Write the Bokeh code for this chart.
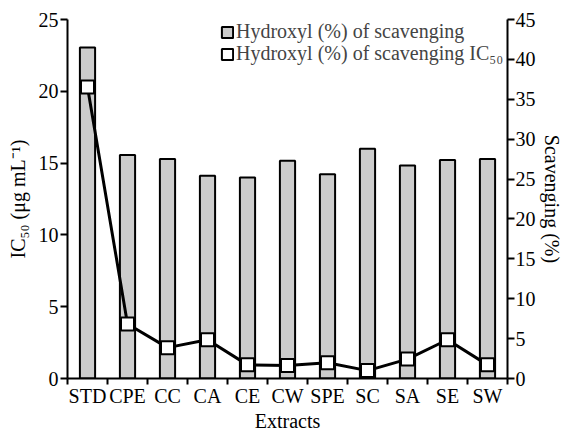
from bokeh.plotting import figure
from bokeh.models import (Range1d, LinearAxis, FixedTicker, Legend, LegendItem)
from bokeh.embed import file_html
from bokeh.resources import INLINE

categories = ["STD", "CPE", "CC", "CA", "CE", "CW", "SPE", "SC", "SA", "SE", "SW"]
scavenging = [41.5, 28.0, 27.5, 25.4, 25.2, 27.3, 25.6, 28.8, 26.7, 27.4, 27.5]
ic50 = [20.3, 3.8, 2.15, 2.7, 0.95, 0.9, 1.1, 0.55, 1.35, 2.7, 0.95]
left_ticks = [0, 5, 10, 15, 20, 25]
right_ticks = [0, 5, 10, 15, 20, 25, 30, 35, 40, 45]

FONT = "Liberation Serif"
FS = "20px"

xs = list(range(len(categories)))

p = figure(width=568, height=434, output_backend="svg", toolbar_location=None,
           x_range=Range1d(-0.5, len(categories) - 0.5), y_range=Range1d(0, 25),
           min_border_left=67, min_border_right=61, min_border_top=19, min_border_bottom=55,
           x_axis_location=None, y_axis_location=None)
p.outline_line_color = None
p.xgrid.visible = False
p.ygrid.visible = False
p.background_fill_color = "white"
p.border_fill_color = "white"
p.extra_y_ranges = {"right": Range1d(0, 45)}

def style_axis(ax):
    ax.axis_line_width = 2
    ax.axis_line_color = "black"
    ax.major_tick_line_width = 2
    ax.major_tick_line_color = "black"
    ax.major_tick_in = 0
    ax.major_tick_out = 7
    ax.minor_tick_line_color = None
    ax.major_label_text_font = FONT
    ax.major_label_text_font_size = FS
    ax.major_label_text_color = "black"
    ax.axis_label_text_font = FONT
    ax.axis_label_text_font_size = FS
    ax.axis_label_text_font_style = "normal"
    ax.axis_label_text_color = "black"

# bottom axis: labels at category centres, ticks between categories
xaxis = LinearAxis(ticker=FixedTicker(ticks=xs, minor_ticks=[i - 0.5 for i in range(len(categories) + 1)]),
                   axis_label="Extracts")
style_axis(xaxis)
xaxis.major_tick_line_color = None
xaxis.major_tick_out = 0
xaxis.minor_tick_line_color = "black"
xaxis.minor_tick_line_width = 2
xaxis.minor_tick_in = 0
xaxis.minor_tick_out = 6
xaxis.major_label_standoff = 0
xaxis.axis_label_standoff = 0
xaxis.major_label_overrides = {i: c for i, c in enumerate(categories)}
p.add_layout(xaxis, "below")

# left axis
yaxis = LinearAxis(ticker=FixedTicker(ticks=left_ticks, minor_ticks=[]),
                   axis_label="IC\u2085\u2080 (\u03bcg mL\u207b\u00b9)")
style_axis(yaxis)
yaxis.major_label_standoff = 2
yaxis.axis_label_standoff = 7
p.add_layout(yaxis, "left")

# right axis
raxis = LinearAxis(y_range_name="right", ticker=FixedTicker(ticks=right_ticks, minor_ticks=[]),
                   axis_label="Scavenging (%)")
style_axis(raxis)
raxis.major_label_standoff = 1
raxis.axis_label_standoff = 2
p.add_layout(raxis, "right")

bars = p.vbar(x=xs, top=scavenging, bottom=0, width=0.38, y_range_name="right",
              fill_color="#cccccc", line_color="black", line_width=2)

p.line(x=xs, y=ic50, line_color="black", line_width=3)
marks = p.rect(x=xs, y=ic50, width=13, height=13, width_units="screen", height_units="screen",
               fill_color="white", line_color="black", line_width=2)

def make_legend(label, renderer, loc):
    lg = Legend(items=[LegendItem(label=label, renderers=[renderer])], location=loc)
    lg.padding = 0
    lg.margin = 0
    lg.spacing = 0
    lg.glyph_width = 14
    lg.glyph_height = 14
    lg.label_height = 20
    lg.label_standoff = 2
    lg.label_text_font = FONT
    lg.label_text_font_size = FS
    lg.background_fill_alpha = 0
    lg.border_line_color = None
    return lg

p.add_layout(make_legend("Hydroxyl (%) of scavenging", bars, (153, 335)))
p.add_layout(make_legend("Hydroxyl (%) of scavenging IC\u2085\u2080", marks, (153, 313)))

open("out.html", "w").write(file_html(p, INLINE))
